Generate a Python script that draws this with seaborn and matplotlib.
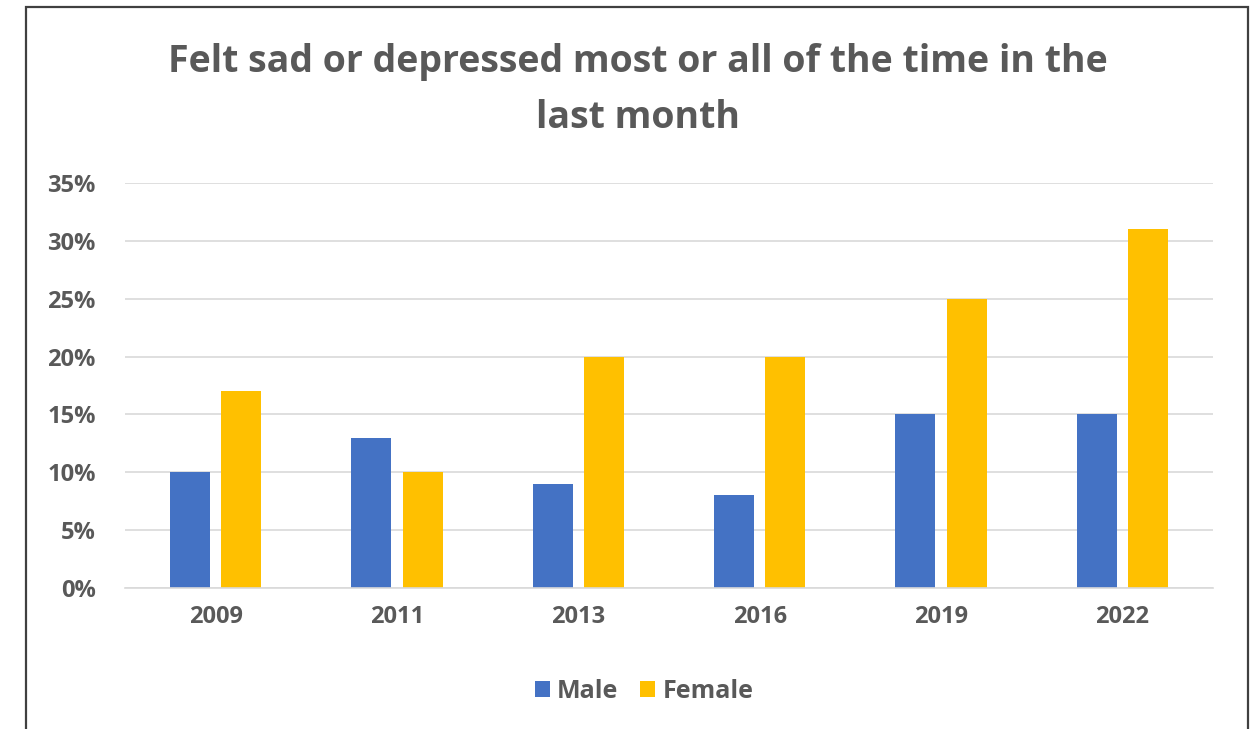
import matplotlib
matplotlib.use("Agg")
import matplotlib.pyplot as plt
from matplotlib.patches import Rectangle
from matplotlib.ticker import PercentFormatter
import seaborn as sns
import pandas as pd

years = ["2009", "2011", "2013", "2016", "2019", "2022"]
male = [0.10, 0.13, 0.09, 0.08, 0.15, 0.15]
female = [0.17, 0.10, 0.20, 0.20, 0.25, 0.31]
genders = ["Male", "Female"]

df = pd.DataFrame({"Year": years * 2,
                   "Gender": ["Male"] * len(years) + ["Female"] * len(years),
                   "Share": male + female})

sns.set_theme(style="white")
plt.rcParams["font.family"] = ["Open Sans", "DejaVu Sans"]
text_color = "#595959"

fig = plt.figure(figsize=(12.5, 7.29), dpi=100)
ax = fig.add_axes([0.1, 0.1934, 0.8704, 0.5556])

sns.barplot(data=df, x="Year", y="Share", hue="Gender", hue_order=genders,
            palette={"Male": "#4472C4", "Female": "#FFC000"},
            width=0.564, gap=0.22, saturation=1, linewidth=0, ax=ax)

ax.set_ylim(0, 0.35)
ax.set_yticks([i * 0.05 for i in range(8)])
ax.yaxis.set_major_formatter(PercentFormatter(1.0, decimals=0))
ax.grid(axis="y", color="#D9D9D9", linewidth=1.2)
ax.set_axisbelow(True)
for s in ["top", "right", "left"]:
    ax.spines[s].set_visible(False)
ax.spines["bottom"].set_color("#D9D9D9")
ax.spines["bottom"].set_linewidth(1.2)
ax.set_xlabel("")
ax.set_ylabel("")
ax.tick_params(axis="both", length=0, labelsize=17, labelcolor=text_color)
ax.tick_params(axis="x", pad=12)
ax.tick_params(axis="y", pad=21)
for lab in ax.get_xticklabels() + ax.get_yticklabels():
    lab.set_fontweight("bold")

fig.text(0.51, 0.8765, "Felt sad or depressed most or all of the time in the\nlast month",
         ha="center", va="center", fontsize=27, fontweight="bold",
         color=text_color, linespacing=1.6)

leg = ax.legend(loc="center", bbox_to_anchor=(0.477, -0.255), ncol=2, frameon=False,
                handlelength=0.6, handleheight=0.6, handletextpad=0.28,
                columnspacing=0.9, fontsize=18)
for t in leg.get_texts():
    t.set_color(text_color)
    t.set_fontweight("bold")

fig.patches.append(Rectangle((0.0208, -0.02), 0.9776, 1.0104, transform=fig.transFigure,
                             fill=False, edgecolor="#404040", linewidth=1.6))

fig.savefig("out.png", dpi=100)
